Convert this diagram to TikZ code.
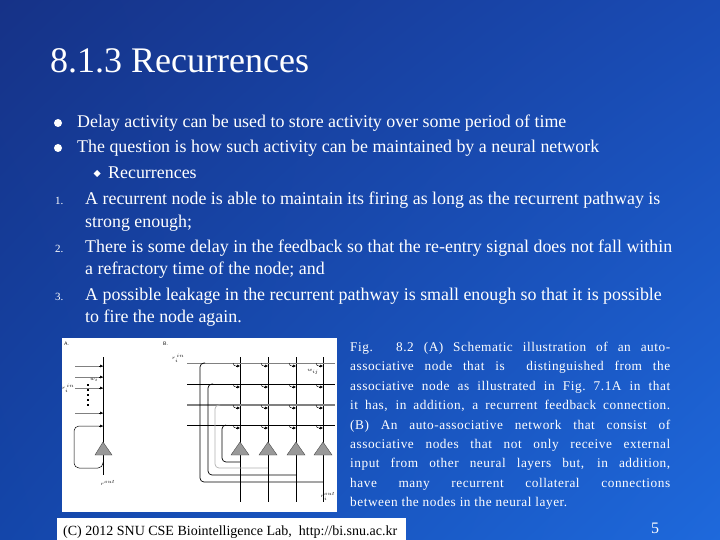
\documentclass[tikz,border=0pt]{standalone}
\usepackage{fontspec}
\setmainfont{Liberation Serif}
\usetikzlibrary{arrows.meta,shadings}
\definecolor{cUL}{RGB}{22,50,135}
\definecolor{cUR}{RGB}{25,75,180}
\definecolor{cLL}{RGB}{20,70,170}
\definecolor{cLR}{RGB}{30,105,220}
\begin{document}
\begin{tikzpicture}[x=1pt,y=-1pt,
  body/.style={text=white,font=\fontsize{17.9}{19}\selectfont,anchor=base west,inner sep=0},
  captext/.style={text=white,font=\fontsize{13.3}{19.4}\selectfont\addfontfeature{LetterSpace=4},anchor=north west,inner sep=0,text width=320pt,align=justify},
  wire/.style={line width=0.9pt},
  gwire/.style={line width=1.3pt,gray},
  syn/.style={-{Latex[length=3pt,width=3pt]},line width=0.5pt},
  neuron/.style={fill=gray!80,draw=black!70,line width=0.4pt},
  flab/.style={font=\fontsize{5}{5}\selectfont\sffamily,inner sep=0}]
\useasboundingbox (0,0) rectangle (720,540);
\shade[upper left=cUL,upper right=cUR,lower left=cLL,lower right=cLR] (0,0) rectangle (720,540);
\node[text=white,font=\fontsize{36}{36}\selectfont,anchor=base west,inner sep=0] (title) at (50,73) {8.1.3 Recurrences};
% bullets
\foreach \y/\n in {128/b1,153/b2}{\fill[white] (58,\y-5) circle (4pt);}
\node[body] (t1) at (77,128) {Delay activity can be used to store activity over some period of time};
\node[body] (t2) at (77,153) {The question is how such activity can be maintained by a neural network};
\fill[white] (97,170) -- (100.5,173.5) -- (97,177) -- (93.5,173.5) -- cycle;
\node[body] (t3) at (108,179) {Recurrences};
\node[body,font=\fontsize{11}{11}\selectfont] (n1) at (55,205) {1.};
\node[body] (t4) at (85,205) {A recurrent node is able to maintain its firing as long as the recurrent pathway is};
\node[body] (t4b) at (85,227) {strong enough;};
\node[body,font=\fontsize{11}{11}\selectfont] (n2) at (55,252) {2.};
\node[body] (t5) at (85,252) {There is some delay in the feedback so that the re-entry signal does not fall within};
\node[body] (t5b) at (85,274) {a refractory time of the node; and};
\node[body,font=\fontsize{11}{11}\selectfont] (n3) at (55,300) {3.};
\node[body] (t6) at (85,300) {A possible leakage in the recurrent pathway is small enough so that it is possible};
\node[body] (t6b) at (85,322) {to fire the node again.};
% caption
\node[captext] (caption) at (350,342) {Fig. 8.2 (A) Schematic illustration of an auto-\linebreak associative node that is \ distinguished from the\linebreak associative node as illustrated in Fig.~7.1A in that\linebreak it has, in addition, a recurrent feedback connection.\linebreak (B) An auto-associative network that consist of\linebreak associative nodes that not only receive external\linebreak input from other neural layers but, in addition,\linebreak have many recurrent collateral connections\linebreak between the nodes in the neural layer.};
% footer
\fill[white] (57,518) rectangle (406,540);
\node[text=black,font=\fontsize{14}{14}\selectfont,anchor=base west,inner sep=0] (foot) at (63,535) {(C) 2012 SNU CSE Biointelligence Lab, \ http://bi.snu.ac.kr};
\node[text=white,font=\fontsize{16}{16}\selectfont,anchor=base,inner sep=0] (page) at (655,533) {5};
% figure
\fill[white] (62,338) rectangle (337,512);
\node[flab,anchor=west] (la) at (64,344) {A.};
\node[flab,anchor=west] (lb) at (163,344) {B.};
% panel A
\draw[wire] (103,357) -- (103,475);
\foreach \y in {366,377,388,413}{\draw[gray,line width=0.4pt] (75,\y) -- (103,\y); \draw[syn] (99,\y) -- (103,\y);}
\draw[line width=0.5pt,rounded corners=5pt] (103,426) -- (74,426) -- (74,468) -- (103,468) -- (103,462);
\draw[syn] (99,426) -- (103,426);
\foreach \y in {384,389,394,399,404}{\fill (87,\y) rectangle (88.5,\y+2);}
\draw[neuron] (95,455) -- (103,442) -- (112,455) -- cycle;
\node[flab] (wa) at (94,380) {$w_i$};
\node[flab] (ra) at (68,388) {$r_i^{\,in}$};
\node[flab] (routa) at (108,483) {$r^{out}$};
% panel B
\foreach \x in {240,268,296,323}{\draw[wire] (\x,357) -- (\x,502);}
\draw[gray,line width=0.5pt] (187,363) -- (335,363);
\draw[wire] (187,384) -- (335,384);
\draw[gwire] (187,405) -- (335,405);
\draw[wire] (187,425) -- (335,425);
\foreach \x in {240,268,296,323}{
 \foreach \y in {363,384,405,425}{
  \draw[line width=0.4pt] (\x-7,\y) .. controls (\x-6,\y+3) .. (\x-3,\y+3);
  \draw[syn] (\x-4,\y+3) -- (\x,\y+3);}
 \draw[neuron] (\x-9,455) -- (\x,442) -- (\x+9,455) -- cycle;}
\draw[line width=0.7pt,rounded corners=4pt] (240,462) -- (222,462) -- (222,425) -- (226,425);
\draw[line width=0.7pt,gray!60,rounded corners=4pt] (268,468) -- (215,468) -- (215,405) -- (220,405);
\draw[line width=0.7pt,rounded corners=4pt] (296,475) -- (208,475) -- (208,384) -- (213,384);
\draw[line width=0.7pt,rounded corners=4pt] (323,482) -- (200,482) -- (200,363) -- (205,363);
\node[flab] (rb) at (178,358) {$r_i^{\,in}$};
\node[flab] (wb) at (313,372) {$w_{ij}$};
\node[flab] (routb) at (328,496) {$r_i^{out}$};
\end{tikzpicture}
\end{document}
